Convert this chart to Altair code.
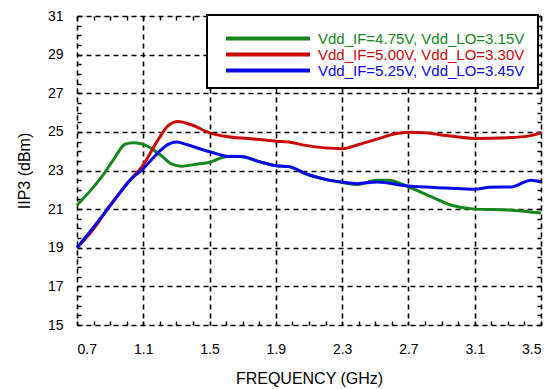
import altair as alt
import pandas as pd

# ---- data ----
series_names = ["Vdd_IF=4.75V, Vdd_LO=3.15V",
                "Vdd_IF=5.00V, Vdd_LO=3.30V",
                "Vdd_IF=5.25V, Vdd_LO=3.45V"]
series_colors = ["#16871f", "#c80a0a", "#0a0ae6"]

g_x = [0.70, 0.80, 0.86, 0.92, 0.99, 1.04, 1.13, 1.21, 1.27, 1.33, 1.43, 1.50, 1.57, 1.62, 1.69,
       1.80, 1.90, 1.98, 2.08, 2.20, 2.30, 2.39, 2.51, 2.58, 2.70, 2.84, 2.96, 3.10, 3.30, 3.50]
g_y = [21.2, 22.15, 22.8, 23.56, 24.36, 24.44, 24.24, 23.76, 23.34, 23.22, 23.34, 23.42, 23.66, 23.74, 23.72,
       23.46, 23.25, 23.2, 22.83, 22.54, 22.38, 22.27, 22.5, 22.5, 22.15, 21.64, 21.2, 21.0, 20.96, 20.8]

r_x = [0.70, 0.79, 0.90, 1.02, 1.09, 1.19, 1.25, 1.31, 1.39, 1.50, 1.61, 1.73, 1.90, 1.98, 2.08,
       2.30, 2.40, 2.52, 2.62, 2.70, 2.80, 2.93, 3.10, 3.30, 3.42, 3.50]
r_y = [19.0, 19.86, 21.2, 22.5, 23.17, 24.6, 25.32, 25.54, 25.37, 24.95, 24.75, 24.66, 24.52, 24.47, 24.3,
       24.13, 24.35, 24.65, 24.9, 24.98, 24.95, 24.81, 24.66, 24.7, 24.78, 24.95]

b_x = [0.70, 0.79, 0.92, 1.02, 1.10, 1.19, 1.25, 1.30, 1.36, 1.45, 1.55, 1.61, 1.69, 1.80, 1.90,
       1.98, 2.08, 2.20, 2.30, 2.39, 2.51, 2.70, 2.93, 3.10, 3.19, 3.32, 3.44, 3.50]
b_y = [19.0, 19.96, 21.4, 22.5, 23.1, 23.93, 24.35, 24.47, 24.35, 24.1, 23.85, 23.73, 23.73, 23.46, 23.25,
       23.2, 22.83, 22.54, 22.4, 22.32, 22.4, 22.2, 22.1, 22.03, 22.13, 22.15, 22.5, 22.4]

x_ticks = [0.7, 1.1, 1.5, 1.9, 2.3, 2.7, 3.1, 3.5]
y_ticks = [15, 17, 19, 21, 23, 25, 27, 29, 31]
x_minor = [round(0.7 + 0.1 * i, 2) for i in range(29)]
y_minor = [15 + 0.5 * i for i in range(33)]

rows = []
for name, xs, ys in zip(series_names, [g_x, r_x, b_x], [g_y, r_y, b_y]):
    for xv, yv in zip(xs, ys):
        rows.append({"series": name, "x": xv, "y": yv})
df = pd.DataFrame(rows)
leg = pd.DataFrame({"series": series_names, "row": [0, 1, 2]})

FONT = "Liberation Sans"
xscale = alt.Scale(domain=[0.7, 3.5], nice=False, zero=False)
yscale = alt.Scale(domain=[15, 31], nice=False, zero=False)
cscale = alt.Scale(domain=series_names, range=series_colors)

lines = alt.Chart(df).mark_line(strokeWidth=3, interpolate="monotone").encode(
    x=alt.X("x:Q", scale=xscale, axis=alt.Axis(
        values=x_ticks, format=".1f", grid=True, gridDash=[5, 4], gridColor="black", gridWidth=1.6,
        domain=False, ticks=False, labelFontSize=14, labelPadding=17, labelFont=FONT, labelColor="black",
        title="FREQUENCY (GHz)", titleFontSize=16, titleFontWeight="normal", titleFont=FONT,
        titleColor="black", titlePadding=14)),
    y=alt.Y("y:Q", scale=yscale, axis=alt.Axis(
        values=y_ticks, grid=True, gridDash=[5, 4], gridColor="black", gridWidth=1.6,
        domain=False, ticks=False, labelFontSize=14, labelPadding=14, labelFont=FONT, labelColor="black",
        title="IIP3 (dBm)", titleFontSize=16, titleFontWeight="normal", titleFont=FONT,
        titleColor="black", titlePadding=15)),
    color=alt.Color("series:N", scale=cscale, legend=None),
)

def tick_layer(orient):
    common = dict(labels=False, domain=False, grid=False, title=None, tickColor="black",
                  tickWidth=1.5, tickSize=4, offset=-4, orient=orient)
    if orient in ("bottom", "top"):
        return alt.Chart(df).mark_point(opacity=0).encode(
            x=alt.X("x:Q", scale=xscale, axis=alt.Axis(values=x_minor, **common)),
            y=alt.Y("y:Q", scale=yscale, axis=None))
    return alt.Chart(df).mark_point(opacity=0).encode(
        x=alt.X("x:Q", scale=xscale, axis=None),
        y=alt.Y("y:Q", scale=yscale, axis=alt.Axis(values=y_minor, **common)))

box = alt.Chart(pd.DataFrame({"a": [0]})).mark_rect(fill="white", stroke="black", strokeWidth=2).encode(
    x=alt.value(130), x2=alt.value(461), y=alt.value(-1), y2=alt.value(72))

leg_rules = alt.Chart(leg).transform_calculate(ypix="22.5 + 16*datum.row").mark_rule(strokeWidth=4).encode(
    x=alt.value(149), x2=alt.value(233),
    y=alt.Y("ypix:Q", scale=None, axis=None),
    color=alt.Color("series:N", scale=cscale, legend=None))

leg_text = alt.Chart(leg).transform_calculate(ypix="22.5 + 16*datum.row").mark_text(
    align="left", baseline="middle", fontSize=15, font=FONT).encode(
    x=alt.value(241),
    y=alt.Y("ypix:Q", scale=None, axis=None),
    text="series:N",
    color=alt.Color("series:N", scale=cscale, legend=None))

chart = alt.layer(
    lines, tick_layer("bottom"), tick_layer("top"), tick_layer("left"), tick_layer("right"),
    box, leg_rules, leg_text
).resolve_axis(x="independent", y="independent").properties(
    width=464, height=309,
    autosize=alt.AutoSizeParams(type="none"),
    padding={"left": 69, "top": 8, "right": 8, "bottom": 64},
).configure_view(stroke="black", strokeWidth=3).configure(background="white")

chart.save("out.html", embed_options={"renderer": "svg", "actions": False})
